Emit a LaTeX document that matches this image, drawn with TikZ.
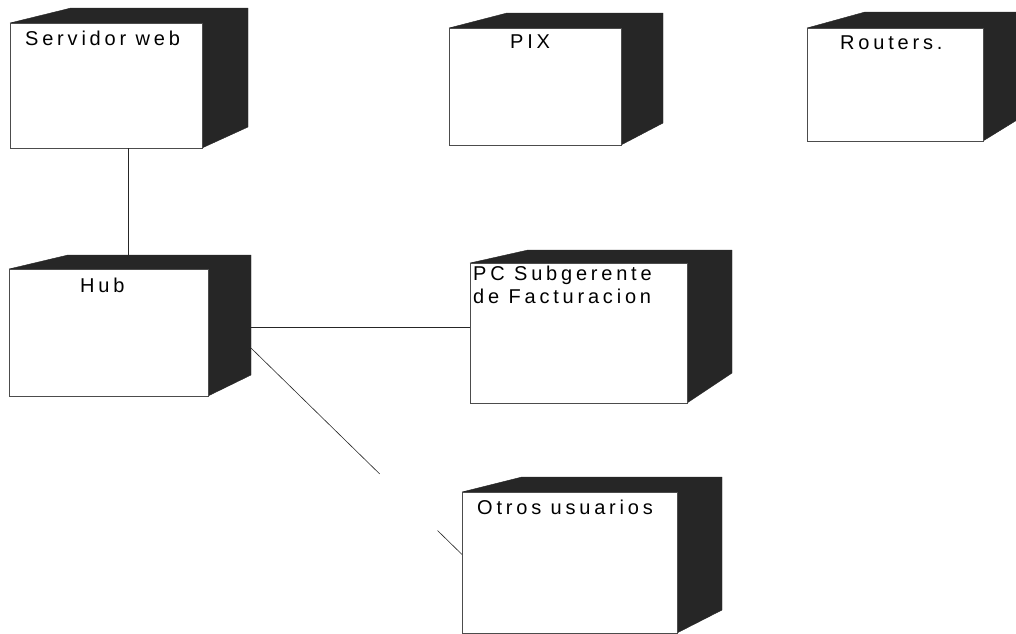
\documentclass[tikz,border=0pt]{standalone}
\usepackage{fontspec}
\newfontfamily\lblfont{Liberation Sans}[LetterSpace=19]
\usetikzlibrary{calc}

\tikzset{
  wire/.style={draw=black!85, line width=0.6pt},
  frontface/.style={draw=black!70, line width=0.6pt, fill=white, inner sep=0pt, outer sep=0pt},
  shade3d/.style={fill=black!85, draw=black!85, line width=0.4pt, line join=round},
  lbl/.style={inner sep=0pt, anchor=base west, align=left,
              font=\lblfont\fontsize{20}{23}\selectfont},
}

% Deployment node: #1 name, (#2,#3)-(#4,#5) front face,
% (#6,#7) back top-left corner, #8 back right x, #9 back bottom y
\newcommand\depnode[9]{%
  \coordinate (#1-btl) at (#6,#7);
  \coordinate (#1-btr) at (#8,#7);
  \coordinate (#1-bbr) at (#8,#9);
  \fill[shade3d] (#2,#3) -- (#1-btl) -- (#1-btr) -- (#1-bbr) -- (#4,#5) -- (#4,#3) -- cycle;
  \node[frontface, anchor=north west,
        minimum width={(#4-#2)*1pt}, minimum height={(#5-#3)*1pt}] (#1) at (#2,#3) {};
}

\begin{document}
\begin{tikzpicture}[x=1pt, y=-1pt]
  \useasboundingbox (0,0) rectangle (1016,633);

  % nodes
  \depnode{srv}{10}{23}{202}{148}{71}{8}{248}{127}
  \depnode{pix}{449}{28}{621}{145}{507}{13}{663}{123}
  \depnode{rtr}{807}{28}{983}{141}{865}{12}{1030}{112}
  \depnode{hub}{9}{269}{208}{396}{68}{255}{251}{375}
  \depnode{pc}{470}{263}{687}{403}{528}{250}{732}{373}
  \depnode{otr}{462}{492}{677}{633}{522}{477}{722}{610}

  % labels
  \node[lbl] (srv-t) at (25,45) {Servidor web};
  \node[lbl] (pix-t) at (510,48) {PIX};
  \node[lbl] (rtr-t) at (840,49) {Routers.};
  \node[lbl] (hub-t) at (80,292) {Hub};
  \node[lbl, anchor=north west] (pc-t) at (473,265.5) {PC Subgerente\\de Facturacion};
  \node[lbl] (otr-t) at (477,514) {Otros usuarios};

  % connections
  \draw[wire] ($(srv.south west)+(118,0)$) -- ($(hub-btl)+(60,0)$);
  \draw[wire] ($(hub-btr)!0.6!(hub-bbr)$) coordinate (hp) -- (hp -| pc.west);
  \draw[wire, dash pattern=on 180pt off 81pt on 60pt]
    ($(hub-btr)!0.775!(hub-bbr)$) -- ($(otr.north west)!0.443!(otr.south west)$);
\end{tikzpicture}
\end{document}
